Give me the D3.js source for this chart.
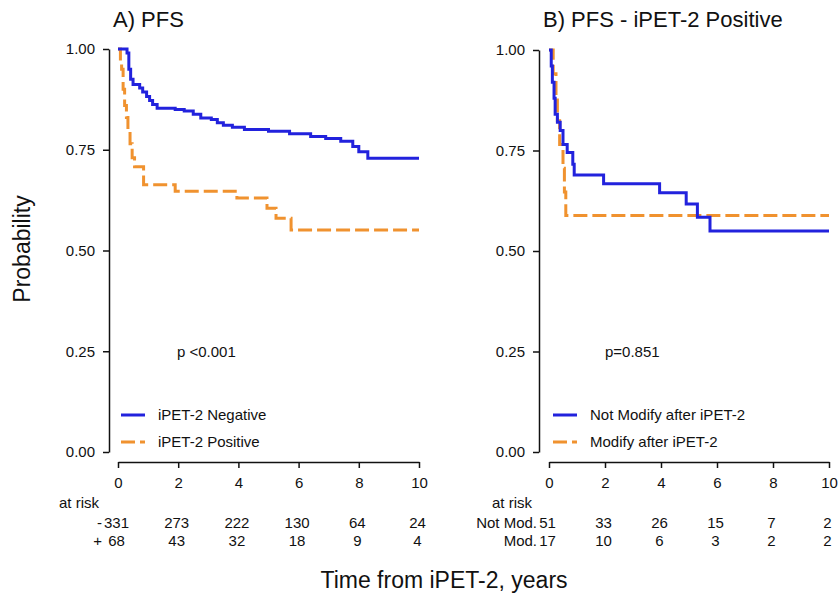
<!DOCTYPE html>
<html>
<head>
<meta charset="utf-8">
<script src="https://cdn.jsdelivr.net/npm/d3@7"></script>
<style>
  body { margin: 0; background: #fff; }
  text { font-family: "Liberation Sans", Arial, sans-serif; fill: #111; }
  .axis path, .axis line { stroke: #111; stroke-width: 1.5; }
</style>
</head>
<body>
<svg id="chart" width="838" height="598"></svg>
<script>
"use strict";

// ---- data ----
var timeTicks = [0, 2, 4, 6, 8, 10];
var probTicks = [0, 0.25, 0.5, 0.75, 1];

// panel A: [years, survival]
var pfsNegative = [
  [0, 1], [0.3, 0.99], [0.36, 0.95], [0.42, 0.925], [0.5, 0.912], [0.72, 0.903],
  [0.82, 0.893], [0.95, 0.882], [1.05, 0.872], [1.15, 0.862], [1.3, 0.853],
  [1.9, 0.85], [2.2, 0.846], [2.5, 0.838], [2.75, 0.829], [3.1, 0.825],
  [3.3, 0.817], [3.5, 0.811], [3.8, 0.806], [4.2, 0.8], [5.0, 0.796],
  [5.7, 0.79], [6.4, 0.783], [6.9, 0.778], [7.4, 0.771], [7.8, 0.758],
  [8.0, 0.745], [8.3, 0.729], [10, 0.729]
];
var pfsPositive = [
  [0, 1], [0.08, 0.97], [0.12, 0.95], [0.17, 0.9], [0.22, 0.86], [0.28, 0.83],
  [0.33, 0.8], [0.4, 0.765], [0.47, 0.73], [0.55, 0.708], [0.85, 0.663],
  [1.9, 0.647], [3.95, 0.63], [4.95, 0.605], [5.25, 0.58], [5.75, 0.551],
  [10, 0.551]
];

// panel B: iPET-2 positive patients
var notModified = [
  [0, 1], [0.08, 0.96], [0.12, 0.92], [0.18, 0.88], [0.22, 0.84], [0.3, 0.82],
  [0.4, 0.8], [0.5, 0.765], [0.65, 0.745], [0.85, 0.716], [0.9, 0.689],
  [1.95, 0.667], [3.95, 0.645], [4.9, 0.617], [5.3, 0.584], [5.75, 0.55],
  [10, 0.55]
];
var modified = [
  [0, 1], [0.15, 0.941], [0.25, 0.882], [0.3, 0.824], [0.38, 0.765],
  [0.5, 0.706], [0.55, 0.647], [0.6, 0.588], [10, 0.588]
];

var atRiskNegative = [331, 273, 222, 130, 64, 24];
var atRiskPositive = [68, 43, 32, 18, 9, 4];
var atRiskNotMod = [51, 33, 26, 15, 7, 2];
var atRiskMod = [17, 10, 6, 3, 2, 2];

var blue = "#2222dd";
var orange = "#f0922f";

var panels = [
  {
    title: "A) PFS", titleX: 113,
    xRange: [118, 419], yRange: [452, 49], yAxisX: 109,
    series: [
      { name: "iPET-2 Negative", data: pfsNegative, color: blue, dash: null },
      { name: "iPET-2 Positive", data: pfsPositive, color: orange, dash: "14,5" }
    ],
    pText: "p <0.001", pX: 177,
    legendX: 121,
    rowLabels: ["-", "+"], rowLabelX: 102,
    atRisk: [atRiskNegative, atRiskPositive], atRiskX: 59
  },
  {
    title: "B) PFS - iPET-2 Positive", titleX: 543,
    xRange: [549, 829], yRange: [452, 50], yAxisX: 539,
    series: [
      { name: "Not Modify after iPET-2", data: notModified, color: blue, dash: null },
      { name: "Modify after iPET-2", data: modified, color: orange, dash: "14,5" }
    ],
    pText: "p=0.851", pX: 605,
    legendX: 553,
    rowLabels: ["Not Mod.", "Mod."], rowLabelX: 537,
    atRisk: [atRiskNotMod, atRiskMod], atRiskX: 492
  }
];

var svg = d3.select("#chart");

panels.forEach(function (p) {
  var x = d3.scaleLinear().domain([0, 10]).range(p.xRange);
  var y = d3.scaleLinear().domain([0, 1]).range(p.yRange);
  var g = svg.append("g");

  g.append("text")
    .attr("x", p.titleX).attr("y", 27)
    .style("font-size", "22px")
    .text(p.title);

  // axes
  g.append("g").attr("class", "axis")
    .attr("transform", "translate(" + p.yAxisX + ",0)")
    .call(d3.axisLeft(y).tickValues(probTicks).tickFormat(d3.format(".2f"))
      .tickSize(6).tickSizeOuter(0).tickPadding(8))
    .call(function (a) { a.selectAll("text").style("font-size", "15px").style("font-family", "Liberation Sans, Arial, sans-serif"); });

  g.append("g").attr("class", "axis")
    .attr("transform", "translate(0,462)")
    .call(d3.axisBottom(x).tickValues(timeTicks).tickFormat(d3.format("d"))
      .tickSize(6).tickSizeOuter(0).tickPadding(9))
    .call(function (a) { a.selectAll("text").style("font-size", "15px").style("font-family", "Liberation Sans, Arial, sans-serif"); });

  // survival curves
  var line = d3.line()
    .x(function (d) { return x(d[0]); })
    .y(function (d) { return y(d[1]); })
    .curve(d3.curveStepAfter);

  p.series.slice().reverse().forEach(function (s) {
    g.append("path")
      .datum(s.data)
      .attr("d", line)
      .attr("fill", "none")
      .attr("stroke", s.color)
      .attr("stroke-width", 3)
      .attr("stroke-dasharray", s.dash);
  });

  // p value
  g.append("text")
    .attr("x", p.pX).attr("y", 357)
    .style("font-size", "15px")
    .text(p.pText);

  // legend
  p.series.forEach(function (s, i) {
    var ly = 415 + i * 27;
    g.append("line")
      .attr("x1", p.legendX).attr("x2", p.legendX + 24)
      .attr("y1", ly).attr("y2", ly)
      .attr("stroke", s.color).attr("stroke-width", 3)
      .attr("stroke-dasharray", s.dash);
    g.append("text")
      .attr("x", p.legendX + 37).attr("y", ly + 5)
      .style("font-size", "15px")
      .text(s.name);
  });

  // number at risk
  g.append("text")
    .attr("x", p.atRiskX).attr("y", 508)
    .style("font-size", "15px")
    .text("at risk");

  p.atRisk.forEach(function (row, i) {
    var ry = 528 + i * 18;
    g.append("text")
      .attr("x", p.rowLabelX).attr("y", ry)
      .attr("text-anchor", "end")
      .style("font-size", "15px")
      .text(p.rowLabels[i]);
    g.selectAll(null)
      .data(row).enter().append("text")
      .attr("x", function (d, j) { return x(timeTicks[j]) - 1.5; })
      .attr("y", ry)
      .attr("text-anchor", "middle")
      .style("font-size", "15px")
      .text(function (d) { return d; });
  });
});

// shared axis titles
svg.append("text")
  .attr("transform", "translate(30,249) rotate(-90)")
  .attr("text-anchor", "middle")
  .style("font-size", "23px")
  .text("Probability");

svg.append("text")
  .attr("x", 444).attr("y", 588)
  .attr("text-anchor", "middle")
  .style("font-size", "23px")
  .text("Time from iPET-2, years");
</script>
</body>
</html>
